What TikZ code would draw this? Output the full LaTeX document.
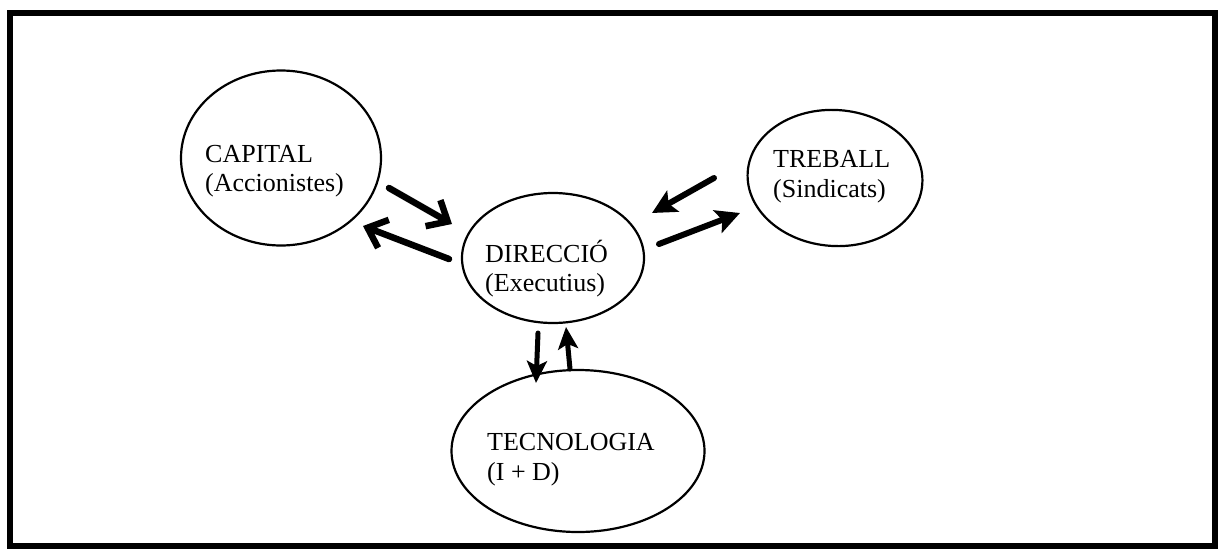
\documentclass[tikz,border=0pt]{standalone}
\usepackage{fontspec}
\setmainfont{Liberation Serif}
\usetikzlibrary{arrows.meta,shapes.geometric}
\begin{document}
\begin{tikzpicture}[x=1pt,y=-1pt,
  frame/.style={line width=5.5pt},
  blob/.style={ellipse,draw,line width=2.2pt,inner sep=0pt},
  lbl/.style={anchor=base west,inner sep=0pt,font=\fontsize{26}{30}\selectfont},
  barb/.style={line width=6.5pt,line cap=round,-{Straight Barb[length=17pt,width=30pt,line width=6.5pt]}},
  sharp/.style={line width=6pt,line cap=round,-{Stealth[length=24pt,width=24pt,inset=5pt]}},
  sharpv/.style={line width=5pt,line cap=round,-{Stealth[length=22pt,width=20pt,inset=5pt]}}]
\useasboundingbox (0,0) rectangle (1220,554);
\fill[white] (0,0) rectangle (1220,554);

% outer frame
\draw[frame] (10,13) rectangle (1215,546);

% the four parties
\node[blob,minimum width=200pt,minimum height=175pt] (cap) at (281,158) {};
\node[blob,minimum width=182pt,minimum height=130pt] (dir) at (553,258) {};
\node[blob,minimum width=175pt,minimum height=136pt,rotate=-4] (treb) at (835,178) {};
\node[blob,minimum width=253pt,minimum height=162pt] (tec) at (578,451) {};

% labels
\node[lbl] (capA) at (205,162) {CAPITAL};
\node[lbl] (capB) at (205,191) {(Accionistes)};
\node[lbl] (dirA) at (485,262) {DIRECCIÓ};
\node[lbl] (dirB) at (485,291) {(Executius)};
\node[lbl] (trebA) at (773,167) {TREBALL};
\node[lbl] (trebB) at (773,197) {(Sindicats)};
\node[lbl] (tecA) at (487,450) {TECNOLOGIA};
\node[lbl] (tecB) at (487,480) {(I + D)};

% arrow end points
\coordinate (c2dS) at (389,188);
\coordinate (c2dE) at (452,224);
\coordinate (d2cS) at (449,259);
\coordinate (d2cE) at (363,226);
\coordinate (t2dS) at (714,178);
\coordinate (t2dE) at (652,213);
\coordinate (d2tS) at (659,244);
\coordinate (d2tE) at (740,213);
\coordinate (d2kS) at (538,333);
\coordinate (d2kE) at (536,383);
\coordinate (k2dS) at (570,369);
\coordinate (k2dE) at (566,327);

% exchanges between the parties
\draw[barb] (c2dS) -- (c2dE);
\draw[barb] (d2cS) -- (d2cE);
\draw[sharp] (t2dS) -- (t2dE);
\draw[sharp] (d2tS) -- (d2tE);
\draw[sharpv] (d2kS) -- (d2kE);
\draw[sharpv] (k2dS) -- (k2dE);
\end{tikzpicture}
\end{document}
